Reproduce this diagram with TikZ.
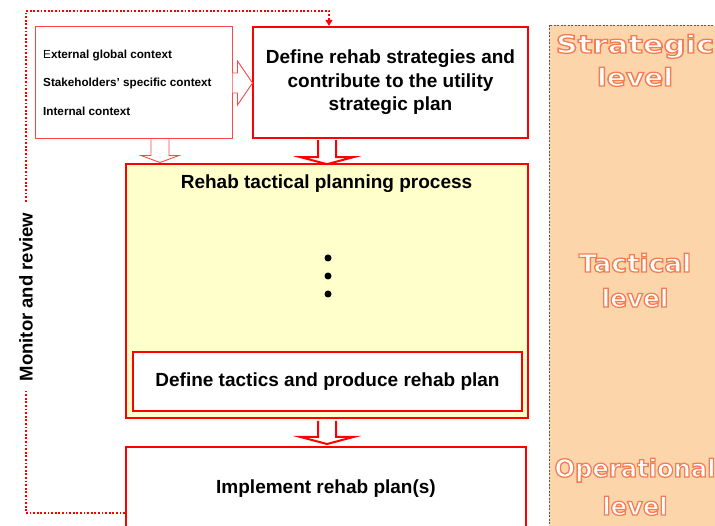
\documentclass[tikz,border=0pt]{standalone}
\usepackage{fontspec}
\setmainfont{Liberation Sans}
\newfontfamily\lvlfont{DejaVu Sans}
\usetikzlibrary{arrows.meta,calc}
\definecolor{rred}{RGB}{255,0,0}
\definecolor{lred}{RGB}{255,70,70}
\definecolor{peach}{RGB}{252,214,170}
\definecolor{pyellow}{RGB}{255,255,204}
\newcommand\outltext[1]{{\color{white}\special{pdf:literal direct 0.96 0.49 0.33 RG 1.3 w 2 Tr}#1\special{pdf:literal direct 0 Tr}}}
\tikzset{
  ctxbox/.style={draw=lred,line width=1pt,fill=white,inner sep=0pt},
  mainbox/.style={draw=rred,line width=2.3pt,fill=white,inner sep=0pt,font=\fontsize{19}{23.5}\selectfont\bfseries,align=center},
  tactbox/.style={draw=rred,line width=2pt,fill=pyellow,inner sep=0pt},
  ctxtext/.style={anchor=west,inner sep=0pt,font=\fontsize{11.7}{14}\selectfont\bfseries},
  titletext/.style={inner sep=0pt,font=\fontsize{19}{23.5}\selectfont\bfseries},
  thinarrow/.style={draw=lred,line width=0.9pt,fill=white,line join=miter},
  thickarrow/.style={draw=rred,line width=2pt,fill=white,line join=miter},
  fbline/.style={draw=rred,line width=2pt,dash pattern=on 1.8pt off 1.8pt},
  lvltext/.style={anchor=base,inner sep=0pt,font=\lvlfont\fontsize{24.7}{30}\selectfont\bfseries},
  dotmark/.style={circle,fill=black,inner sep=0pt,minimum size=7pt},
}
\begin{document}
\begin{tikzpicture}[x=1pt,y=-1pt]
\useasboundingbox (0,0) rectangle (715,526);
\clip (0,0) rectangle (715,526);
% level panel
\path[fill=peach,draw=black!65,line width=0.8pt,dash pattern=on 2pt off 1.5pt] (549,25) rectangle (740,560);
\node[lvltext] (ls1) at (635,53) {\scalebox{1.24}[1]{\outltext{Strategic}}};
\node[lvltext] (ls2) at (635,86) {\scalebox{1.14}[1]{\outltext{level}}};
\node[lvltext] (lt1) at (635,272) {\scalebox{1.07}[1]{\outltext{Tactical}}};
\node[lvltext] (lt2) at (635,307) {\scalebox{1.0}[1]{\outltext{level}}};
\node[lvltext] (lo1) at (635,477) {\scalebox{0.98}[1]{\outltext{Operational}}};
\node[lvltext] (lo2) at (635,515) {\scalebox{0.98}[1]{\outltext{level}}};
% context box
\node[ctxbox,minimum width=197pt,minimum height=112pt] (ctx) at (133.5,83) {};
\node[ctxtext] (c1) at (43,56) {{\mdseries E}xternal global context};
\node[ctxtext] (c2) at (43,83) {Stakeholders’ specific context};
\node[ctxtext] (c3) at (43,111) {Internal context};
% strategy box
\node[mainbox,minimum width=275pt,minimum height=111pt] (strat) at (390.5,82.5) {Define rehab strategies and\\contribute to the utility\\strategic plan};
% tactical box
\node[tactbox,minimum width=402pt,minimum height=254pt] (tact) at (327,291) {};
\node[titletext] (ttl) at (326.5,184) {Rehab tactical planning process};
\node[dotmark] (d1) at (328,258) {};
\node[dotmark] (d2) at (328,276) {};
\node[dotmark] (d3) at (328,294) {};
\node[mainbox,line width=2pt,minimum width=389pt,minimum height=59pt] (tactic) at (327.5,381.5) {Define tactics and produce rehab plan};
% implement box
\node[mainbox,line width=2pt,minimum width=400pt,minimum height=84pt] (impl) at (326,489) {Implement rehab plan(s)};
% block arrows
\draw[thinarrow] (ctx.east) ++(0,-10) -- ++(5,0) -- ++(0,-12) -- ++(15,22) -- ++(-15,22) -- ++(0,-12) -- ++(-5,0);
\draw[thinarrow] ([xshift=26.5pt]ctx.south) ++(-9,0) -- ++(0,16) -- ++(-10,0) -- ++(19,7) -- ++(19,-7) -- ++(-10,0) -- ++(0,-16);
\draw[thickarrow] (strat.south -| tact.north) ++(-9,1) -- ++(0,17) -- ++(-17.5,0) -- ++(26.5,7) -- ++(26.5,-7) -- ++(-17.5,0) -- ++(0,-17);
\draw[thickarrow] (tact.south) ++(-9,2) -- ++(0,16) -- ++(-17.5,0) -- ++(26.5,7) -- ++(26.5,-7) -- ++(-17.5,0) -- ++(0,-16);
% feedback loop
\coordinate (fbtop) at (26,11);
\draw[fbline,-{Triangle[length=6pt,width=7pt]}] ([yshift=-24pt]impl.west) -| (fbtop) -| ([xshift=-61.5pt]strat.north);
\node[rotate=90,fill=white,inner xsep=10pt,inner ysep=2pt,font=\fontsize{18.5}{22}\selectfont\bfseries] (mon) at (26,297) {Monitor and review};
\end{tikzpicture}
\end{document}
